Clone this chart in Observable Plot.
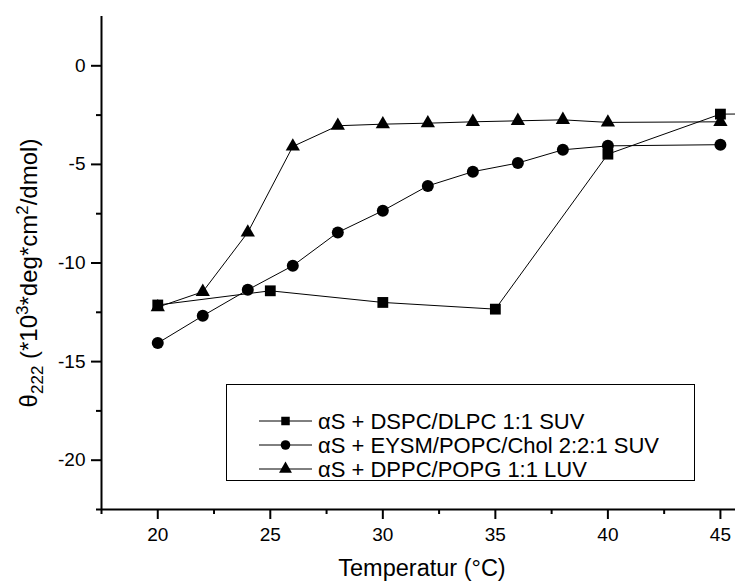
<!DOCTYPE html>
<html><head><meta charset="utf-8">
<script src="https://cdn.jsdelivr.net/npm/d3@7"></script>
<script src="https://cdn.jsdelivr.net/npm/@observablehq/plot@0.6"></script>
<style>body{margin:0;background:#fff} #chart svg{display:block}</style>
</head><body><div id="chart"></div>
<script>
// ---- data ----
const seriesNames = ["αS + DSPC/DLPC 1:1 SUV", "αS + EYSM/POPC/Chol 2:2:1 SUV", "αS + DPPC/POPG 1:1 LUV"];
const seriesSymbols = ["square", "circle", "triangle"];
const dspcTemp = [20, 25, 30, 35, 40, 45, 50];
const dspcTheta = [-12.13, -11.41, -12.0, -12.34, -4.48, -2.45, -2.42];
const eysmTemp = [20, 22, 24, 26, 28, 30, 32, 34, 36, 38, 40, 45];
const eysmTheta = [-14.06, -12.68, -11.36, -10.14, -8.45, -7.35, -6.09, -5.37, -4.93, -4.26, -4.06, -4.0];
const dppcTemp = [20, 22, 24, 26, 28, 30, 32, 34, 36, 38, 40, 45];
const dppcTheta = [-12.24, -11.46, -8.45, -4.09, -3.04, -2.96, -2.91, -2.84, -2.79, -2.74, -2.87, -2.84];
const xMajor = [20, 25, 30, 35, 40, 45];
const xMinor = [17.5, 22.5, 27.5, 32.5, 37.5, 42.5];
const yMajor = [-20, -15, -10, -5, 0];
const yMinor = [-22.5, -17.5, -12.5, -7.5, -2.5];
const xTitle = "Temperatur (°C)";

const toRows = (t, v) => t.map((x, i) => ({x, y: v[i]}));
const rows = [toRows(dspcTemp, dspcTheta), toRows(eysmTemp, eysmTheta), toRows(dppcTemp, dppcTheta)];
const symR = {square: 6.1, circle: 6.0, triangle: 5.3};

const font = "'Liberation Sans', Arial, sans-serif";
const chart = Plot.plot({
  width: 735, height: 582,
  marginLeft: 101, marginRight: 0, marginTop: 16, marginBottom: 73,
  style: {fontFamily: font, fontSize: "19px", background: "white", color: "black"},
  x: {domain: [17.5, 45.67]},
  y: {domain: [-22.5, 2.5]},
  marks: [
    Plot.axisX({ticks: xMajor, tickSize: 10, tickPadding: 8, strokeWidth: 2, tickFormat: d => String(d), label: null, fontSize: 19}),
    Plot.axisX({ticks: xMinor, tickSize: 5, strokeWidth: 2, tickFormat: () => "", label: null}),
    Plot.axisY({ticks: yMajor, tickSize: 10, tickPadding: 6, strokeWidth: 2, tickFormat: d => String(d), label: null, fontSize: 19}),
    Plot.axisY({ticks: yMinor, tickSize: 5, strokeWidth: 2, tickFormat: () => "", label: null}),
    Plot.ruleX([17.5], {strokeWidth: 2}),
    Plot.ruleY([-22.5], {strokeWidth: 2}),
    ...rows.map(r => Plot.line(r, {x: "x", y: "y", stroke: "black", strokeWidth: 1, clip: true})),
    ...rows.map((r, i) => Plot.dot(r, {x: "x", y: "y", symbol: () => seriesSymbols[i], r: symR[seriesSymbols[i]], fill: "black", stroke: "none", clip: true})).reverse()
  ]
});
document.getElementById("chart").appendChild(chart);

const svg = d3.select(chart);

// x-axis title
svg.append("text").attr("x", 422).attr("y", 568).attr("dy", "0.35em")
  .attr("text-anchor", "middle").style("font-family", font).style("font-size", "23.5px").attr("fill", "black").text(xTitle);

// y-axis title with sub/superscripts
const yt = svg.append("text")
  .attr("transform", "translate(29,273) rotate(-90)")
  .attr("text-anchor", "middle").attr("dy", "0.35em")
  .style("font-family", font).style("font-size", "24px").attr("fill", "black");
yt.append("tspan").text("θ");
yt.append("tspan").attr("dy", 6).style("font-size", "17px").text("222");
yt.append("tspan").attr("dy", -6).text(" (*10");
yt.append("tspan").attr("dy", -9).style("font-size", "17px").text("3");
yt.append("tspan").attr("dy", 9).text("*deg*cm");
yt.append("tspan").attr("dy", -9).style("font-size", "17px").text("2");
yt.append("tspan").attr("dy", 9).text("/dmol)");

// legend
const lg = svg.append("g").style("font-family", font).attr("text-anchor", "start");
lg.append("rect").attr("x", 226.5).attr("y", 384.5).attr("width", 468).attr("height", 96)
  .attr("fill", "white").attr("stroke", "black").attr("stroke-width", 1);
const rowY = [421, 445, 469];
seriesNames.forEach((name, i) => {
  const y = rowY[i];
  lg.append("line").attr("x1", 259).attr("x2", 312).attr("y1", y).attr("y2", y).attr("stroke", "black").attr("stroke-width", 1);
  const s = seriesSymbols[i] === "square" ? d3.symbolSquare : seriesSymbols[i] === "circle" ? d3.symbolCircle : d3.symbolTriangle;
  lg.append("path").attr("d", d3.symbol(s, Math.PI * 4.8 * 4.8)()).attr("transform", `translate(285.5,${y})`).attr("fill", "black");
  lg.append("text").attr("x", 318).attr("y", y).attr("dy", "0.35em").attr("text-anchor", "start").style("font-size", "22px").attr("fill", "black").text(name);
});
</script>
</body></html>
